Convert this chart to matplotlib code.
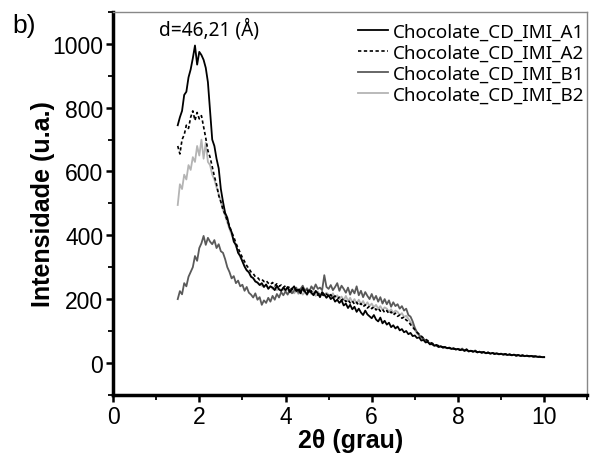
import numpy as np
import matplotlib
matplotlib.use('Agg')
import matplotlib.pyplot as plt
from matplotlib.ticker import MultipleLocator

# 2theta grid, step 0.05 from 1.5 to 10
two_theta = np.round(np.arange(1.5, 10.001, 0.05), 2)

a1 = [745, 770, 790, 840, 850, 895, 920, 955, 995, 935,
      975, 965, 950, 925, 880, 790, 700, 680, 640, 610, 545, 505, 470, 455, 425, 410, 380, 370, 345, 335,
      318, 302, 290, 284, 270, 266, 255, 252, 244, 250, 238, 246, 232, 240, 236, 228, 242, 230, 226, 236,
      228, 238, 222, 232, 240, 225, 230, 218, 236, 224, 215, 228, 220, 212, 226, 218, 206, 222, 214, 204,
      212, 200, 206, 192, 198, 188, 196, 180, 186, 172, 182, 168, 176, 160, 170, 158, 150, 164, 152, 146,
      140, 150, 136, 130, 142, 124, 132, 120, 126, 112, 118, 108, 114, 102, 106, 96, 100, 90, 94, 84,
      86, 78, 80, 70, 72, 64, 66, 58, 60, 54, 56, 50, 52, 48, 50, 46, 48, 44, 46, 42,
      44, 40, 42, 38, 43, 36, 38, 35, 37, 33, 35, 32, 34, 30, 33, 29, 31, 28, 30, 27,
      29, 26, 28, 25, 27, 24, 26, 23, 25, 22, 24, 21, 23, 21, 22, 20, 21, 19, 20, 18,
      18]

a2 = [680, 655, 700, 715, 745, 735, 770, 790, 760, 785,
      765, 775, 740, 705, 665, 645, 615, 585, 560, 525, 505, 480, 465, 445, 430, 410, 395, 375, 360, 345,
      330, 318, 305, 296, 285, 280, 270, 268, 260, 262, 255, 258, 250, 246, 252, 242, 248, 240, 244, 236,
      242, 234, 240, 230, 236, 228, 234, 224, 230, 222, 228, 218, 226, 216, 222, 212, 220, 214, 210, 216,
      208, 214, 204, 210, 200, 206, 196, 202, 192, 198, 188, 194, 184, 190, 180, 186, 176, 182, 172, 178,
      170, 176, 166, 172, 162, 168, 158, 164, 154, 160, 150, 156, 146, 150, 140, 144, 134, 130, 120, 112,
      104, 96, 90, 84, 78, 74, 70, 64, 62, 58, 56, 54, 52, 50, 48, 47, 46, 45, 44, 43,
      44, 41, 42, 39, 40, 37, 38, 36, 37, 34, 35, 33, 34, 31, 32, 30, 31, 29, 30, 28,
      28, 27, 27, 25, 26, 24, 25, 23, 24, 22, 23, 21, 22, 21, 21, 20, 20, 19, 19, 18,
      18]

b1 = [200, 225, 215, 250, 240, 270, 285, 300, 335, 320,
      360, 375, 398, 370, 392, 380, 372, 385, 360, 372, 350, 345, 325, 300, 285, 265, 272, 250, 258, 240,
      245, 226, 238, 220, 214, 205, 218, 198, 206, 182, 196, 188, 204, 192, 210, 198, 216, 205, 222, 212,
      224, 214, 230, 218, 226, 236, 220, 232, 242, 226, 234, 222, 240, 230, 246, 232, 236, 228, 275, 238,
      232, 244, 228, 238, 250, 226, 242, 232, 220, 236, 214, 230, 218, 240, 212, 226, 206, 222, 210, 200,
      216, 198, 210, 192, 206, 186, 200, 184, 196, 176, 190, 178, 184, 170, 178, 164, 170, 150, 145, 130,
      110, 96, 88, 80, 76, 70, 66, 60, 58, 54, 55, 50, 52, 48, 49, 46, 47, 44, 45, 42,
      43, 40, 45, 38, 40, 36, 38, 35, 39, 33, 35, 32, 33, 31, 32, 29, 31, 28, 29, 27,
      28, 26, 27, 25, 26, 24, 25, 23, 24, 22, 23, 22, 22, 20, 21, 20, 20, 19, 19, 18,
      18]

b2 = [495, 560, 545, 590, 575, 620, 605, 645, 630, 680,
      650, 700, 640, 690, 630, 620, 590, 575, 550, 530, 505, 480, 462, 440, 420, 402, 385, 365, 350, 332,
      320, 305, 292, 285, 272, 264, 258, 250, 246, 242, 238, 244, 236, 240, 232, 238, 228, 234, 226, 230,
      224, 232, 220, 228, 218, 226, 216, 224, 214, 222, 212, 228, 216, 222, 210, 224, 214, 218, 212, 220,
      214, 208, 218, 204, 212, 200, 208, 196, 210, 194, 204, 190, 200, 186, 198, 184, 194, 180, 190, 178,
      186, 174, 182, 170, 178, 166, 174, 170, 160, 168, 156, 164, 160, 150, 156, 144, 148, 138, 128, 118,
      104, 92, 86, 80, 74, 70, 66, 62, 60, 56, 54, 52, 51, 49, 48, 46, 46, 44, 44, 43,
      44, 41, 42, 39, 40, 37, 38, 36, 37, 34, 35, 33, 34, 31, 32, 30, 31, 29, 30, 28,
      28, 27, 27, 25, 26, 24, 25, 23, 24, 22, 23, 21, 22, 21, 21, 20, 20, 19, 19, 18,
      18]

labels = ['Chocolate_CD_IMI_A1', 'Chocolate_CD_IMI_A2',
          'Chocolate_CD_IMI_B1', 'Chocolate_CD_IMI_B2']

plt.rcParams['font.family'] = ['Liberation Sans', 'DejaVu Sans']

fig = plt.figure(figsize=(5.92, 4.64), dpi=100)
ax = fig.add_axes([0.191, 0.147, 0.801, 0.825])

ax.plot(two_theta, b2, color='#b4b4b4', lw=1.3, label=labels[3])
ax.plot(two_theta, b1, color='#5a5a5a', lw=1.3, label=labels[2])
ax.plot(two_theta, a2, color='black', lw=1.2, ls=(0, (2, 1.5)), label=labels[1])
ax.plot(two_theta, a1, color='black', lw=1.3, label=labels[0])

ax.set_xlim(0, 11)
ax.set_ylim(-100, 1100)
ax.xaxis.set_major_locator(MultipleLocator(2))
ax.xaxis.set_minor_locator(MultipleLocator(1))
ax.yaxis.set_major_locator(MultipleLocator(200))
ax.yaxis.set_minor_locator(MultipleLocator(100))
ax.set_yticks([0, 200, 400, 600, 800, 1000])

for s in ['left', 'bottom']:
    ax.spines[s].set_linewidth(2.5)
    ax.spines[s].set_color('black')
for s in ['top', 'right']:
    ax.spines[s].set_linewidth(1)
    ax.spines[s].set_color('#888888')

ax.tick_params(which='major', direction='out', length=5, width=1.8, labelsize=16.5, pad=2)
ax.tick_params(which='minor', direction='out', length=3.5, width=1.3)
ax.tick_params(top=False, right=False, which='both')

ax.set_xlabel('2θ (grau)', fontsize=18, fontweight='bold', labelpad=0)
ax.set_ylabel('Intensidade (u.a.)', fontsize=18, fontweight='bold', labelpad=-2)

handles, labs = ax.get_legend_handles_labels()
order = [3, 2, 1, 0]
ax.legend([handles[i] for i in order], [labs[i] for i in order],
          loc='upper right', bbox_to_anchor=(1.015, 1.0), frameon=False,
          prop={'family': 'Noto Sans', 'size': 13.5},
          handlelength=1.6, handletextpad=0.25, labelspacing=0.17,
          borderaxespad=0.15)

ax.text(1.07, 1047, 'd=46,21 (Å)', fontsize=13.7, family='Noto Sans',
        ha='left', va='center')
fig.text(0.02, 1 - 26 / 464, 'b)', fontsize=19, va='center', ha='left')

fig.savefig('out.png', dpi=100)
